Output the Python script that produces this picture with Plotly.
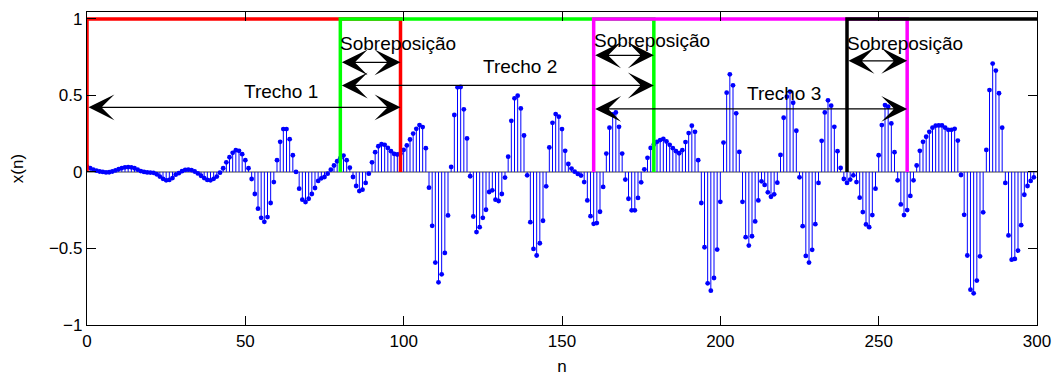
import plotly.graph_objects as go

# ---------------- data ----------------
n = list(range(300))
x_n = [
    0.035, 0.025, 0.015, 0.008, 0.003, 0.000, -0.003, -0.002, 0.003, 0.010,
    0.018, 0.025, 0.030, 0.032, 0.030, 0.024, 0.015, 0.006, 0.000, -0.003,
    -0.004, -0.006, -0.015, -0.030, -0.045, -0.055, -0.052, -0.040, -0.018, -0.008,
    0.005, 0.013, 0.015, 0.012, 0.003, -0.010, -0.025, -0.040, -0.052, -0.055,
    -0.045, -0.030, -0.005, 0.024, 0.063, 0.096, 0.125, 0.142, 0.138, 0.116,
    0.077, 0.024, -0.046, -0.144, -0.240, -0.300, -0.326, -0.295, -0.203, -0.066,
    0.077, 0.197, 0.280, 0.280, 0.214, 0.109, 0.000, -0.109, -0.181, -0.197,
    -0.175, -0.144, -0.105, -0.059, -0.042, -0.033, -0.011, 0.015, 0.042, 0.070,
    0.090, 0.107, 0.077, 0.028, -0.033, -0.092, -0.125, -0.116, -0.072, -0.011,
    0.063, 0.129, 0.168, 0.181, 0.177, 0.157, 0.136, 0.118, 0.114, 0.120,
    0.144, 0.173, 0.212, 0.251, 0.282, 0.306, 0.293, 0.155, -0.103, -0.352,
    -0.592, -0.721, -0.669, -0.529, -0.284, 0.033, 0.372, 0.553, 0.555, 0.409,
    0.219, -0.028, -0.291, -0.393, -0.361, -0.300, -0.247, -0.131, -0.120, -0.181,
    -0.190, -0.144, -0.037, 0.100, 0.334, 0.481, 0.498, 0.415, 0.238, -0.022,
    -0.328, -0.503, -0.546, -0.466, -0.319, -0.094, 0.160, 0.321, 0.378, 0.361,
    0.280, 0.138, 0.052, 0.022, 0.002, -0.013, -0.024, -0.066, -0.186, -0.289,
    -0.339, -0.334, -0.260, -0.098, 0.120, 0.289, 0.376, 0.389, 0.295, 0.120,
    -0.050, -0.175, -0.251, -0.251, -0.170, -0.068, 0.017, 0.092, 0.157, 0.180,
    0.197, 0.208, 0.216, 0.199, 0.177, 0.155, 0.136, 0.122, 0.142, 0.195,
    0.254, 0.302, 0.262, 0.077, -0.203, -0.492, -0.728, -0.776, -0.693, -0.507,
    -0.195, 0.192, 0.518, 0.638, 0.566, 0.383, 0.131, -0.195, -0.426, -0.481,
    -0.420, -0.323, -0.186, -0.061, -0.085, -0.133, -0.162, -0.146, -0.070, 0.111,
    0.354, 0.492, 0.525, 0.452, 0.269, -0.035, -0.354, -0.549, -0.592, -0.509,
    -0.341, -0.072, 0.203, 0.389, 0.468, 0.433, 0.295, 0.136, 0.026, -0.046,
    -0.072, -0.050, -0.022, -0.066, -0.168, -0.262, -0.343, -0.361, -0.282, -0.109,
    0.109, 0.306, 0.437, 0.426, 0.317, 0.129, -0.055, -0.212, -0.282, -0.249,
    -0.157, -0.055, 0.042, 0.138, 0.197, 0.230, 0.262, 0.289, 0.302, 0.304,
    0.304, 0.289, 0.275, 0.275, 0.282, 0.205, -0.020, -0.280, -0.546, -0.769,
    -0.793, -0.710, -0.551, -0.264, 0.144, 0.535, 0.708, 0.662, 0.514, 0.289,
    -0.072, -0.415, -0.573, -0.568, -0.514, -0.348, -0.149, -0.092, -0.059, -0.035,
]

# rectangular windows (segments of 100 samples, 20 samples overlap)
win_start = [0, 80, 160, 240]
win_end = [99, 179, 259, 339]
win_height = 1
win_colors = ["#ff0000", "#00ff00", "#ff00ff", "#000000"]

seg_labels = ["Trecho 1", "Trecho 2", "Trecho 3"]
overlap_label = "Sobreposição"

x_ticks = [0, 50, 100, 150, 200, 250, 300]
y_ticks = [-1, -0.5, 0, 0.5, 1]

# ---------------- style / placement ----------------
FONT = "Liberation Sans, Arial, Helvetica, sans-serif"
seg_arrow_y = [0.422, 0.565, 0.412]
seg_text_pos = [(61.4, 0.525), (136.8, 0.69), (220, 0.51)]
ovl_arrow_y = [0.716, 0.762, 0.726]
ovl_text_y = [0.838, 0.862, 0.842]

fig = go.Figure()

# baseline
fig.add_trace(go.Scatter(x=[x_ticks[0], x_ticks[-1]], y=[0, 0], mode="lines",
                         line=dict(color="#808080", width=1.5),
                         hoverinfo="skip", showlegend=False))

# stems
sx, sy = [], []
for k, v in zip(n, x_n):
    sx += [k, k, None]
    sy += [0, v, None]
fig.add_trace(go.Scatter(x=sx, y=sy, mode="lines",
                         line=dict(color="#0000ff", width=1),
                         hoverinfo="skip", showlegend=False))
fig.add_trace(go.Scatter(x=n, y=x_n, mode="markers",
                         marker=dict(color="#0000ff", size=4.8),
                         showlegend=False))

# windows
for a, b, c in zip(win_start, win_end, win_colors):
    fig.add_trace(go.Scatter(x=[a, a, b, b], y=[0, win_height, win_height, 0],
                             mode="lines", line=dict(color=c, width=3.5),
                             hoverinfo="skip", showlegend=False))

ann = []
arrow_common = dict(xref="x", yref="y", axref="x", ayref="y", text="",
                    showarrow=True, arrowside="end+start",
                    arrowhead=3, startarrowhead=3,
                    arrowsize=3.6, startarrowsize=3.6,
                    arrowwidth=1.2, arrowcolor="#000000",
                    standoff=0, startstandoff=0)
# segment arrows + labels
for i, lab in enumerate(seg_labels):
    ann.append(dict(x=win_end[i], y=seg_arrow_y[i], ax=win_start[i],
                    ay=seg_arrow_y[i], **arrow_common))
    ann.append(dict(x=seg_text_pos[i][0], y=seg_text_pos[i][1], xref="x",
                    yref="y", text=lab, showarrow=False,
                    font=dict(family=FONT, size=19, color="#000000")))
# overlap arrows + labels
for i in range(3):
    ann.append(dict(x=win_end[i], y=ovl_arrow_y[i], ax=win_start[i + 1],
                    ay=ovl_arrow_y[i], **arrow_common))
    ann.append(dict(x=win_start[i + 1], y=ovl_text_y[i], xref="x", yref="y",
                    text=overlap_label, showarrow=False, xanchor="left",
                    xshift=-2,
                    font=dict(family=FONT, size=19, color="#000000")))

# the page body adds an 8 px offset; margins compensate for it
fig.update_layout(
    width=1061, height=376,
    margin=dict(l=79, r=32, t=4, b=59, autoexpand=False),
    paper_bgcolor="white", plot_bgcolor="white",
    font=dict(family=FONT, size=17, color="#000000"),
    annotations=ann,
    showlegend=False,
)
fig.update_xaxes(range=[0, 300], tickvals=x_ticks, ticks="inside", ticklen=9,
                 tickcolor="#000000", showline=True, linecolor="#000000",
                 linewidth=1.2, mirror="ticks", showgrid=False, zeroline=False,
                 automargin=False,
                 title=dict(text="n", standoff=10,
                            font=dict(family=FONT, size=17)))
fig.update_yaxes(range=[-1, 1.045], tickvals=y_ticks, ticks="inside",
                 ticklen=9, tickcolor="#000000", showline=True,
                 linecolor="#000000", linewidth=1.2, mirror="ticks",
                 showgrid=False, zeroline=False, automargin=False,
                 title=dict(text="x(n)", standoff=22,
                            font=dict(family=FONT, size=17)))

fig.write_html("out.html")
